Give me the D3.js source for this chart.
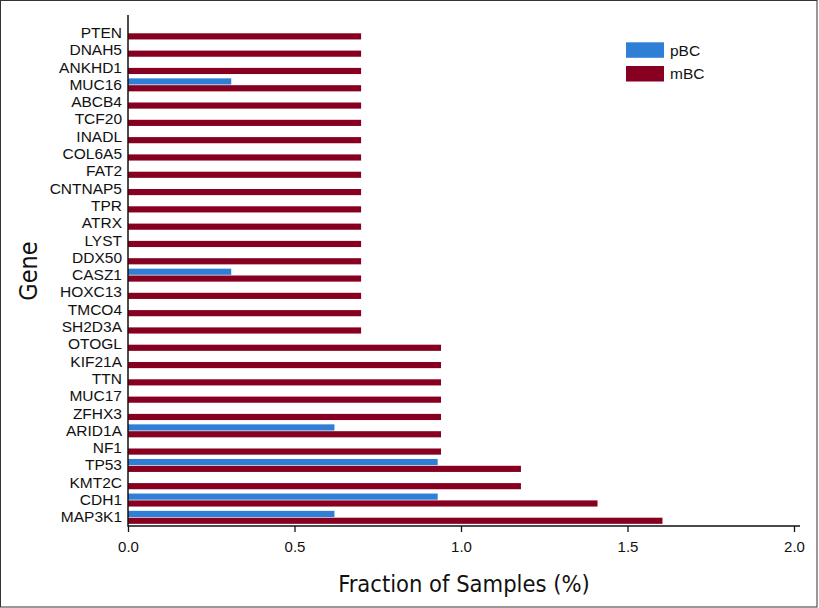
<!DOCTYPE html>
<html>
<head>
<meta charset="utf-8">
<script src="https://cdn.jsdelivr.net/npm/d3@7"></script>
<style>
  html, body { margin: 0; padding: 0; background: #fff; }
  svg { display: block; }
</style>
</head>
<body>
<svg id="chart" width="819" height="608"></svg>
<script>
// Genes listed top to bottom
const genes = ["PTEN","DNAH5","ANKHD1","MUC16","ABCB4","TCF20","INADL","COL6A5","FAT2","CNTNAP5","TPR","ATRX","LYST","DDX50","CASZ1","HOXC13","TMCO4","SH2D3A","OTOGL","KIF21A","TTN","MUC17","ZFHX3","ARID1A","NF1","TP53","KMT2C","CDH1","MAP3K1"];
const seriesNames = ["pBC","mBC"];
const pBC = [0,0,0,0.31,0,0,0,0,0,0,0,0,0,0,0.31,0,0,0,0,0,0,0,0,0.62,0,0.93,0,0.93,0.62];
const mBC = [0.70,0.70,0.70,0.70,0.70,0.70,0.70,0.70,0.70,0.70,0.70,0.70,0.70,0.70,0.70,0.70,0.70,0.70,0.94,0.94,0.94,0.94,0.94,0.94,0.94,1.18,1.18,1.41,1.605];
const xTicks = [0, 0.5, 1.0, 1.5, 2.0];
const colors = {pBC: "#2f7fd7", mBC: "#870021"};

const svg = d3.select("#chart");
const sans = "'Liberation Sans', Arial, Helvetica, sans-serif";
const narrow = "'Liberation Sans Narrow', 'Arial Narrow', 'DejaVu Sans Condensed', sans-serif";

// frame
svg.append("rect").attr("x",0.5).attr("y",0.5).attr("width",816.5).attr("height",606.5)
  .attr("fill","#fff").attr("stroke","#333").attr("stroke-width",1);

const x = d3.scaleLinear().domain([0, 2]).range([128, 794]);
const y = d3.scaleBand().domain(genes).range([24.3, 526]).padding(0);
const sub = d3.scaleBand().domain(seriesNames).range([-6.5, 6.5]).paddingInner(0.1);

const rows = genes.map((g,i) => ({gene: g, pBC: pBC[i], mBC: mBC[i]}));

const gBars = svg.append("g");
seriesNames.forEach(s => {
  gBars.selectAll("rect." + s)
    .data(rows.filter(d => d[s] > 0))
    .join("rect")
    .attr("class", s)
    .attr("x", x(0))
    .attr("y", d => y(d.gene) + y.bandwidth()/2 + sub(s))
    .attr("width", d => x(d[s]) - x(0))
    .attr("height", sub.bandwidth())
    .attr("fill", colors[s]);
});

// x axis
const xAxis = svg.append("g").attr("transform", "translate(0,526)")
  .call(d3.axisBottom(x).tickValues(xTicks).tickFormat(d3.format(".1f")).tickSize(6).tickSizeOuter(0).tickPadding(9));
xAxis.select(".domain").remove();
xAxis.selectAll(".tick line").attr("stroke","#111").attr("stroke-width",1.3);
xAxis.selectAll(".tick text").attr("font-family", sans).attr("font-size","15px").attr("fill","#111");
svg.append("line").attr("x1", x(0)).attr("x2", 800).attr("y1", 526).attr("y2", 526)
  .attr("stroke","#111").attr("stroke-width",1.5);

// y axis
const yAxis = svg.append("g").attr("transform", "translate(128,0)")
  .call(d3.axisLeft(y).tickSize(0).tickPadding(6));
yAxis.select(".domain").remove();
yAxis.selectAll(".tick text").attr("font-family", sans).attr("font-size","15.5px").attr("fill","#111");
svg.append("line").attr("x1",128).attr("x2",128).attr("y1",15).attr("y2",526.75)
  .attr("stroke","#111").attr("stroke-width",1.5);

// axis titles
svg.append("text").attr("x", 464).attr("y", 591.5).attr("text-anchor","middle")
  .attr("font-family", narrow).attr("font-size","23.5px").attr("fill","#111")
  .text("Fraction of Samples (%)");
svg.append("text").attr("transform","translate(36.5,271) rotate(-90)").attr("text-anchor","middle")
  .attr("font-family", narrow).attr("font-size","25px").attr("fill","#111")
  .text("Gene");

// legend
const legend = svg.append("g");
const legY = [42.3, 66];
seriesNames.forEach((s,i) => {
  legend.append("rect").attr("x",626).attr("y",legY[i]).attr("width",38).attr("height",15.5).attr("fill",colors[s]);
  legend.append("text").attr("x",670).attr("y",legY[i]+13.2)
    .attr("font-family", sans).attr("font-size","15.5px").attr("fill","#111").text(s);
});
</script>
</body>
</html>
